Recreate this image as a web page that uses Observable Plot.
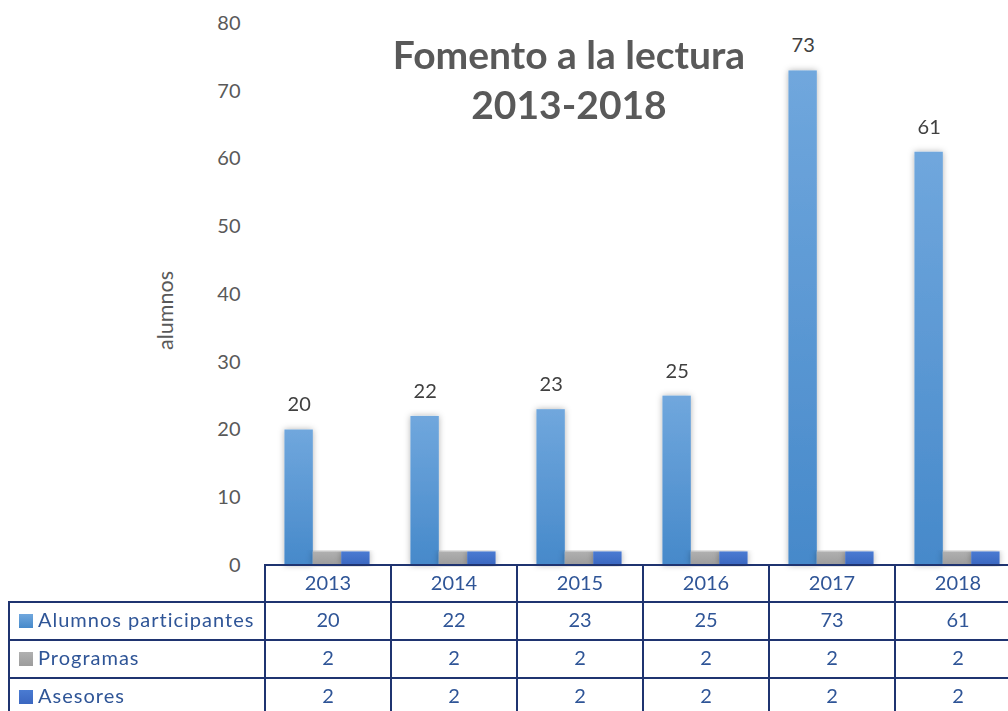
<!DOCTYPE html>
<html><head><meta charset="utf-8">
<script src="https://cdn.jsdelivr.net/npm/d3@7"></script>
<script src="https://cdn.jsdelivr.net/npm/@observablehq/plot@0.6"></script>
<style>
html,body{margin:0;padding:0;background:#fff;overflow:hidden;}
#wrap{position:relative;width:1008px;height:711px;overflow:hidden;font-family:Lato,"Open Sans",sans-serif;}
#title{position:absolute;left:319px;top:29px;width:500px;text-align:center;font-weight:bold;font-size:39px;line-height:50px;color:#595959;white-space:nowrap;}
#tbl{position:absolute;left:8px;top:564px;width:1012px;border-collapse:collapse;table-layout:fixed;}
#tbl td{border:2px solid #1f3470;text-align:center;color:#2f5597;font-size:20px;line-height:20px;padding:0 0 4px 0;white-space:nowrap;overflow:hidden;}
#tbl tr{height:38px;}
#tbl tr.hdr{height:37px;}
#tbl td.blank{border:none;}
#tbl td.lab{text-align:left;padding-left:9px;}
#tbl td.lab span.t{letter-spacing:1px;}
.key{display:inline-block;width:14px;height:14px;margin-right:5px;vertical-align:-1px;}
</style></head>
<body>
<div id="wrap"><div id="chart"></div><div id="title">Fomento a la lectura<br>2013-2018</div><table id="tbl"></table></div>
<script>
const years = ["2013","2014","2015","2016","2017","2018"];
const series = ["Alumnos participantes","Programas","Asesores"];
const alumnos = [20,22,23,25,73,61];
const programas = [2,2,2,2,2,2];
const asesores = [2,2,2,2,2,2];
const yTicks = [0,10,20,30,40,50,60,70,80];
const yLabel = "alumnos";
const seriesValues = [alumnos, programas, asesores];
const gradIds = ["gA","gP","gS"];
const gradStops = [["#70a7dd","#4689ca"],["#b0b0b0","#9c9c9c"],["#4a7bd2","#3b67c0"]];

const data = years.flatMap((yr,i)=>series.map((s,j)=>({year:yr, series:s, value:seriesValues[j][i]})));

const chart = Plot.plot({
  width:1008, height:711,
  marginLeft:264, marginRight:-12, marginTop:23, marginBottom:146,
  style:{fontFamily:"Lato, 'Open Sans', sans-serif", fontSize:"20px", color:"#595959", background:"transparent"},
  fx:{domain:years, padding:0, round:false, axis:null},
  x:{domain:series, paddingInner:0, paddingOuter:0.72, round:false, axis:null},
  y:{domain:[0,80]},
  marks:[
    Plot.axisY({ticks:yTicks, tickSize:0, tickPadding:24, label:null, fill:"#595959", fontSize:20}),
    ...series.map((s,j)=>Plot.barY(data.filter(d=>d.series===s), {fx:"year", x:"series", y:"value", fill:`url(#${gradIds[j]})`})),
    Plot.text(data.filter(d=>d.series===series[0]), {fx:"year", x:"series", y:"value", text:d=>String(d.value), dy:-25, fill:"#404040", fontSize:20}),
    Plot.text([yLabel], {fx:()=>years[0], text:d=>d, frameAnchor:"left", textAnchor:"middle", rotate:-90, dx:-98, dy:16, fill:"#595959", fontSize:21.5})
  ]
});
document.getElementById("chart").appendChild(chart);

// gradients & shadow
const svg = d3.select(chart);
const defs = svg.insert("defs",":first-child");
gradIds.forEach((id,j)=>{
  const g = defs.append("linearGradient").attr("id",id).attr("x1",0).attr("y1",0).attr("x2",0).attr("y2",1);
  g.append("stop").attr("offset","0%").attr("stop-color",gradStops[j][0]);
  g.append("stop").attr("offset","100%").attr("stop-color",gradStops[j][1]);
});
const f = defs.append("filter").attr("id","shadow").attr("x","-50%").attr("y","-10%").attr("width","200%").attr("height","120%");
f.append("feDropShadow").attr("dx",0).attr("dy",0).attr("stdDeviation",3).attr("flood-color","#000").attr("flood-opacity",0.3);
svg.selectAll('g[aria-label="bar"]').attr("filter","url(#shadow)");

// data table
const tbl = d3.select("#tbl");
const cg = tbl.append("colgroup");
cg.append("col").style("width","256px");
years.forEach(()=>cg.append("col").style("width","126px"));
const hr = tbl.append("tr").attr("class","hdr");
hr.append("td").attr("class","blank");
years.forEach(y=>hr.append("td").text(y));
series.forEach((s,j)=>{
  const r = tbl.append("tr");
  const c = r.append("td").attr("class","lab");
  c.append("span").attr("class","key").style("background",`linear-gradient(${gradStops[j][0]},${gradStops[j][1]})`);
  c.append("span").attr("class","t").text(s);
  seriesValues[j].forEach(v=>r.append("td").text(v));
});
</script>
</body></html>
